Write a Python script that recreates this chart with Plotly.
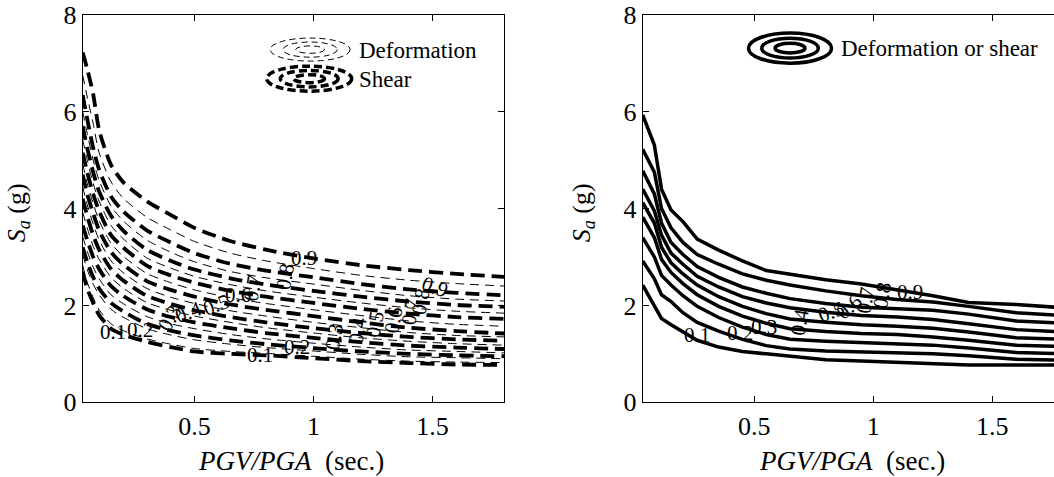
import plotly.graph_objects as go

# ---------------- data ----------------
levels = ["0.1", "0.2", "0.3", "0.4", "0.5", "0.6", "0.7", "0.8", "0.9"]

# left panel: PGV/PGA grid
x_left = [0.031, 0.05, 0.075, 0.1, 0.15, 0.2, 0.3, 0.4, 0.5, 0.65, 0.8, 1.0, 1.2, 1.4, 1.6, 1.8]

# shear (thick dashed), levels 0.1 .. 0.9
shear_01 = [2.70, 2.35, 2.05, 1.80, 1.52, 1.40, 1.25, 1.14, 1.05, 1.00, 0.97, 0.91, 0.85, 0.81, 0.78, 0.77]
shear_02 = [3.20, 2.90, 2.58, 2.35, 2.05, 1.88, 1.62, 1.48, 1.38, 1.28, 1.20, 1.12, 1.05, 1.00, 0.97, 0.95]
shear_03 = [3.65, 3.35, 3.00, 2.75, 2.40, 2.20, 1.92, 1.76, 1.65, 1.53, 1.43, 1.33, 1.24, 1.17, 1.13, 1.10]
shear_04 = [4.20, 3.85, 3.45, 3.15, 2.75, 2.52, 2.20, 2.03, 1.90, 1.76, 1.65, 1.53, 1.43, 1.35, 1.30, 1.27]
shear_05 = [4.70, 4.30, 3.90, 3.55, 3.10, 2.85, 2.50, 2.32, 2.18, 2.02, 1.91, 1.78, 1.65, 1.54, 1.47, 1.42]
shear_06 = [5.15, 4.75, 4.30, 3.95, 3.45, 3.20, 2.82, 2.62, 2.47, 2.30, 2.18, 2.05, 1.93, 1.83, 1.76, 1.72]
shear_07 = [5.70, 5.25, 4.75, 4.35, 3.85, 3.55, 3.15, 2.92, 2.74, 2.56, 2.43, 2.30, 2.18, 2.08, 2.01, 1.97]
shear_08 = [6.34, 5.85, 5.25, 4.80, 4.25, 3.95, 3.55, 3.30, 3.08, 2.86, 2.72, 2.58, 2.44, 2.33, 2.26, 2.21]
shear_09 = [7.22, 6.88, 6.36, 5.62, 4.90, 4.55, 4.15, 3.87, 3.60, 3.33, 3.15, 2.97, 2.83, 2.73, 2.65, 2.59]

# deformation (thin dashed), levels 0.1 .. 0.9
deform_01 = [2.82, 2.48, 2.16, 1.91, 1.62, 1.48, 1.31, 1.20, 1.11, 1.05, 1.01, 0.95, 0.89, 0.85, 0.83, 0.82]
deform_02 = [3.05, 2.74, 2.44, 2.22, 1.92, 1.76, 1.52, 1.39, 1.29, 1.20, 1.13, 1.06, 0.99, 0.94, 0.92, 0.90]
deform_03 = [3.42, 3.12, 2.79, 2.55, 2.22, 2.04, 1.77, 1.62, 1.52, 1.40, 1.31, 1.22, 1.14, 1.08, 1.05, 1.02]
deform_04 = [3.92, 3.60, 3.22, 2.95, 2.58, 2.36, 2.06, 1.90, 1.78, 1.65, 1.54, 1.43, 1.33, 1.26, 1.21, 1.18]
deform_05 = [4.45, 4.08, 3.68, 3.35, 2.92, 2.68, 2.35, 2.17, 2.04, 1.89, 1.78, 1.65, 1.54, 1.44, 1.38, 1.35]
deform_06 = [4.92, 4.52, 4.10, 3.75, 3.28, 3.02, 2.66, 2.47, 2.32, 2.16, 2.04, 1.91, 1.79, 1.68, 1.61, 1.57]
deform_07 = [5.42, 5.00, 4.52, 4.15, 3.65, 3.38, 2.98, 2.77, 2.60, 2.43, 2.30, 2.17, 2.05, 1.95, 1.88, 1.84]
deform_08 = [6.00, 5.55, 5.00, 4.58, 4.05, 3.75, 3.35, 3.10, 2.90, 2.70, 2.57, 2.44, 2.31, 2.20, 2.13, 2.09]
deform_09 = [6.75, 6.30, 5.75, 5.15, 4.55, 4.22, 3.82, 3.56, 3.32, 3.08, 2.92, 2.76, 2.62, 2.52, 2.45, 2.40]

# right panel: deformation or shear (solid)
x_right = [0.031, 0.08, 0.11, 0.15, 0.2, 0.26, 0.35, 0.45, 0.55, 0.65, 0.8, 0.95, 1.1, 1.25, 1.4, 1.6, 1.8]
both_01 = [2.42, 2.00, 1.73, 1.60, 1.45, 1.28, 1.14, 1.05, 1.00, 0.95, 0.88, 0.85, 0.82, 0.80, 0.77, 0.77, 0.77]
both_02 = [2.92, 2.55, 2.22, 2.08, 1.85, 1.65, 1.47, 1.30, 1.17, 1.10, 1.06, 1.04, 1.03, 1.00, 0.96, 0.89, 0.87]
both_03 = [3.40, 3.00, 2.62, 2.42, 2.20, 1.98, 1.75, 1.55, 1.40, 1.30, 1.26, 1.23, 1.21, 1.18, 1.12, 1.03, 1.00]
both_04 = [3.82, 3.40, 2.95, 2.68, 2.45, 2.22, 1.98, 1.78, 1.63, 1.52, 1.46, 1.42, 1.40, 1.35, 1.28, 1.18, 1.15]
both_05 = [4.12, 3.70, 3.20, 2.88, 2.65, 2.42, 2.18, 1.98, 1.83, 1.72, 1.65, 1.60, 1.57, 1.53, 1.45, 1.33, 1.30]
both_06 = [4.40, 3.95, 3.45, 3.08, 2.85, 2.60, 2.38, 2.18, 2.05, 1.95, 1.86, 1.79, 1.76, 1.71, 1.62, 1.50, 1.45]
both_07 = [4.78, 4.30, 3.70, 3.30, 3.05, 2.80, 2.58, 2.38, 2.25, 2.14, 2.04, 1.96, 1.93, 1.90, 1.82, 1.68, 1.63]
both_08 = [5.22, 4.75, 4.00, 3.60, 3.30, 3.05, 2.85, 2.65, 2.52, 2.42, 2.30, 2.20, 2.12, 2.07, 1.98, 1.85, 1.79]
both_09 = [5.93, 5.31, 4.40, 3.97, 3.73, 3.37, 3.14, 2.92, 2.72, 2.64, 2.53, 2.44, 2.32, 2.20, 2.06, 2.02, 1.95]

shear = [shear_01, shear_02, shear_03, shear_04, shear_05, shear_06, shear_07, shear_08, shear_09]
deform = [deform_01, deform_02, deform_03, deform_04, deform_05, deform_06, deform_07, deform_08, deform_09]
both = [both_01, both_02, both_03, both_04, both_05, both_06, both_07, both_08, both_09]

y_ticks = [0, 2, 4, 6, 8]
x_ticks = [0.5, 1, 1.5]
x_ticklabels = ["0.5", "1", "1.5"]

# ---------------- figure ----------------
FONT = "Liberation Serif, Times New Roman, DejaVu Serif, serif"
W, H = 1054, 477
fig = go.Figure()

for ys in deform:
    fig.add_trace(go.Scatter(x=x_left, y=ys, mode="lines", xaxis="x", yaxis="y",
                             line=dict(color="black", width=1, dash="9px,6px", shape="spline", smoothing=0.7),
                             showlegend=False, hoverinfo="skip"))
for ys in shear:
    fig.add_trace(go.Scatter(x=x_left, y=ys, mode="lines", xaxis="x", yaxis="y",
                             line=dict(color="black", width=3.8, dash="14px,7px", shape="spline", smoothing=0.7),
                             showlegend=False, hoverinfo="skip"))
for ys in both:
    fig.add_trace(go.Scatter(x=x_right, y=ys, mode="lines", xaxis="x2", yaxis="y2",
                             line=dict(color="black", width=3.5),
                             showlegend=False, hoverinfo="skip"))

x0l, x1l = 82.7 / W, 504 / W
x0r = 642.7 / W
y0, y1 = 1 - 402.3 / H, 1 - 14.7 / H

axis_common = dict(showline=True, linecolor="black", linewidth=1.2, ticks="inside", ticklen=6,
                   tickcolor="black", tickwidth=1, showgrid=False, zeroline=False, automargin=False,
                   tickfont=dict(family=FONT, size=26, color="black"))

fig.update_layout(
    width=W, height=H, autosize=False,
    margin=dict(l=0, r=0, t=0, b=0, pad=0),
    paper_bgcolor="white", plot_bgcolor="white",
    showlegend=False,
    font=dict(family=FONT, color="black"),
    xaxis=dict(domain=[x0l, x1l], range=[0.031, 1.80], tickvals=x_ticks, ticktext=x_ticklabels,
               anchor="y", mirror="ticks", **axis_common),
    yaxis=dict(domain=[y0, y1], range=[0, 8], tickvals=y_ticks, anchor="x", mirror="ticks", **axis_common),
    xaxis2=dict(domain=[x0r, 1.0], range=[0.031, 1.759], tickvals=x_ticks, ticktext=x_ticklabels,
                anchor="y2", mirror="ticks", **axis_common),
    yaxis2=dict(domain=[y0, y1], range=[0, 8], tickvals=y_ticks, anchor="x2", mirror=False, **axis_common),
)

annots = []
ytitle = "<i>S</i><sub><i>a</i></sub> (g)"
xtitle = "<i>PGV/PGA</i>  (sec.)"
annots.append(dict(text=xtitle, xref="x", yref="paper", x=0.906, y=0.5 / H, showarrow=False,
                   xanchor="center", yanchor="bottom", borderpad=0,
                   font=dict(family=FONT, size=27, color="black")))
annots.append(dict(text=xtitle, xref="x2", yref="paper", x=0.909, y=0.5 / H, showarrow=False,
                   xanchor="center", yanchor="bottom", borderpad=0,
                   font=dict(family=FONT, size=27, color="black")))
annots.append(dict(text=ytitle, xref="paper", yref="y", x=18 / W, y=3.9, showarrow=False, textangle=-90,
                   xanchor="center", yanchor="middle", font=dict(family=FONT, size=26, color="black")))
annots.append(dict(text=ytitle, xref="paper", yref="y2", x=583 / W, y=3.9, showarrow=False, textangle=-90,
                   xanchor="center", yanchor="middle", font=dict(family=FONT, size=26, color="black")))

# legend texts
annots.append(dict(text="Deformation", xref="x", yref="y", x=1.184, y=7.27, showarrow=False,
                   xanchor="left", yanchor="middle", font=dict(family=FONT, size=23, color="black")))
annots.append(dict(text="Shear", xref="x", yref="y", x=1.184, y=6.66, showarrow=False,
                   xanchor="left", yanchor="middle", font=dict(family=FONT, size=23, color="black")))
annots.append(dict(text="Deformation or shear", xref="x2", yref="y2", x=0.854, y=7.31, showarrow=False,
                   xanchor="left", yanchor="middle", font=dict(family=FONT, size=23, color="black")))

# contour labels (text placed along the lines)
left_lab_a = [(0.157, 1.46, 0), (0.27, 1.49, 0), (0.398, 1.73, -60), (0.476, 1.87, -20), (0.59, 2.01, -20),
              (0.682, 2.21, 0), (0.746, 2.35, -80), (0.88, 2.59, -80), (0.959, 2.97, 0)]
left_lab_b = [(0.774, 0.98, 0), (0.93, 1.15, 0), (1.086, 1.35, -80), (1.186, 1.49, -80), (1.257, 1.6, -80),
              (1.335, 1.70, -80), (1.406, 1.87, -80), (1.448, 2.08, -80), (1.512, 2.39, 20)]
right_lab = [(0.26, 1.39, 0), (0.44, 1.43, 0), (0.54, 1.55, 0), (0.69, 1.66, -80), (0.82, 1.87, -20),
             (0.896, 1.97, -40), (0.967, 2.11, -80), (1.038, 2.21, -80), (1.152, 2.28, 0)]
for lab, (lx, ly, ang) in zip(levels, left_lab_a):
    annots.append(dict(text=lab, xref="x", yref="y", x=lx, y=ly, showarrow=False, textangle=ang,
                       font=dict(family=FONT, size=21, color="black")))
for lab, (lx, ly, ang) in zip(levels, left_lab_b):
    annots.append(dict(text=lab, xref="x", yref="y", x=lx, y=ly, showarrow=False, textangle=ang,
                       font=dict(family=FONT, size=21, color="black")))
for lab, (lx, ly, ang) in zip(levels, right_lab):
    annots.append(dict(text=lab, xref="x2", yref="y2", x=lx, y=ly, showarrow=False, textangle=ang,
                       font=dict(family=FONT, size=21, color="black")))
fig.update_layout(annotations=annots)

# legend icons: concentric ellipses
def ellipses(xref, yref, cx, cy, w, h, width, dash):
    out = []
    for fx, fy in [(1.0, 1.0), (0.68, 0.66), (0.36, 0.32)]:
        out.append(dict(type="circle", xref=xref, yref=yref,
                        x0=cx - w * fx / 2, x1=cx + w * fx / 2, y0=cy - h * fy / 2, y1=cy + h * fy / 2,
                        line=dict(color="black", width=width, dash=dash)))
    return out

shapes = []
shapes += ellipses("x", "y", 0.986, 7.28, 0.336, 0.475, 1, "6px,4px")
shapes += ellipses("x", "y", 0.982, 6.68, 0.357, 0.516, 3.5, "8px,4px")
shapes += ellipses("x2", "y2", 0.65, 7.31, 0.349, 0.62, 3.5, "solid")
fig.update_layout(shapes=shapes)

fig.write_html("out.html", config={"displayModeBar": False, "responsive": False},
               post_script="document.body.style.margin='0px';document.body.style.overflow='hidden';")
